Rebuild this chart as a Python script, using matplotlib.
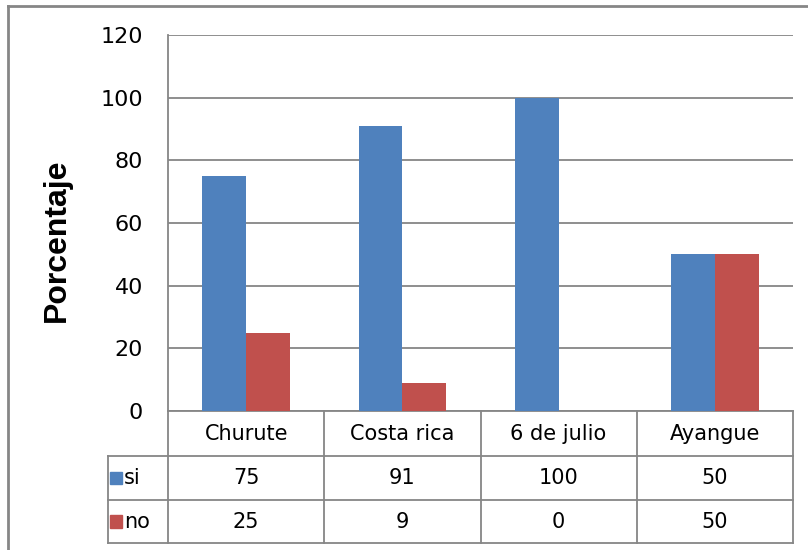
import matplotlib.pyplot as plt
import matplotlib.transforms as mtransforms
import numpy as np

plt.rcParams['font.family'] = ['Liberation Sans Narrow', 'DejaVu Sans']

categorias = ["Churute", "Costa rica", "6 de julio", "Ayangue"]
si = [75, 91, 100, 50]
no = [25, 9, 0, 50]
series = ["si", "no"]
colores = ["#4F81BD", "#C0504D"]
gris = "#868686"

W, H = 808, 550
fig = plt.figure(figsize=(W / 100, H / 100), dpi=100)

# area del grafico (en pixeles de la imagen)
x0, x1, ytop, ybot = 168, 793, 35, 411
ax = fig.add_axes([x0 / W, 1 - ybot / H, (x1 - x0) / W, (ybot - ytop) / H])

x = np.arange(len(categorias))
ancho = 0.28
ax.bar(x - ancho / 2, si, ancho, color=colores[0], zorder=3)
ax.bar(x + ancho / 2, no, ancho, color=colores[1], zorder=3)

ax.set_xlim(-0.5, len(categorias) - 0.5)
ax.set_ylim(0, 120)
ax.set_yticks(range(0, 121, 20))
ax.set_xticks([])
ax.tick_params(axis="y", length=0, pad=18, labelsize=16)
ax.grid(axis="y", color=gris, linewidth=1.3, zorder=0)
for s in ["top", "right", "bottom"]:
    ax.spines[s].set_visible(False)
ax.spines["left"].set_color(gris)
ax.spines["left"].set_linewidth(1.3)

ax.set_ylabel("Porcentaje", fontsize=23, fontweight="bold",
              family=['Liberation Sans', 'DejaVu Sans'])
ax.yaxis.set_label_coords((57 - x0) / (x1 - x0), (ybot - 240) / (ybot - ytop))
ax.yaxis.label.set_va("center")

# tabla de datos debajo del eje
tr = mtransforms.blended_transform_factory(ax.transData, ax.transAxes)
alto = ybot - ytop
def fy(ypix):
    return (ybot - ypix) / alto

filas = [411, 456, 500, 543]
leg_x = -0.5 - (x0 - 108) / ((x1 - x0) / len(categorias))
bordes = np.arange(len(categorias) + 1) - 0.5
kw = dict(color=gris, linewidth=1.3, transform=tr, clip_on=False)

# lineas verticales
for b in bordes:
    ax.plot([b, b], [fy(filas[0]), fy(filas[-1])], **kw)
ax.plot([leg_x, leg_x], [fy(filas[1]), fy(filas[-1])], **kw)
# lineas horizontales
ax.plot([bordes[0], bordes[-1]], [fy(filas[0]), fy(filas[0])], **kw)
for f in filas[1:]:
    ax.plot([leg_x, bordes[-1]], [fy(f), fy(f)], **kw)

for i, c in enumerate(categorias):
    ax.text(i, fy((filas[0] + filas[1]) / 2), c, transform=tr, ha="center",
            va="center", fontsize=15)

for r, (nombre, vals, col) in enumerate(zip(series, [si, no], colores)):
    ym = fy((filas[r + 1] + filas[r + 2]) / 2)
    for i, v in enumerate(vals):
        ax.text(i, ym, str(v), transform=tr, ha="center", va="center", fontsize=15)
    ax.add_patch(plt.Rectangle((leg_x + 0.015, ym - 0.017), 0.075, 0.034,
                               transform=tr, color=col, clip_on=False))
    ax.text(leg_x + 0.1, ym, nombre, transform=tr, ha="left", va="center", fontsize=15)

# borde exterior
fig.add_artist(plt.Line2D([8 / W, 8 / W], [0, 1 - 6 / H], color=gris, linewidth=2,
                          transform=fig.transFigure))
fig.add_artist(plt.Line2D([8 / W, 1], [1 - 6 / H, 1 - 6 / H], color=gris, linewidth=2,
                          transform=fig.transFigure))

fig.savefig("out.png", dpi=100)
